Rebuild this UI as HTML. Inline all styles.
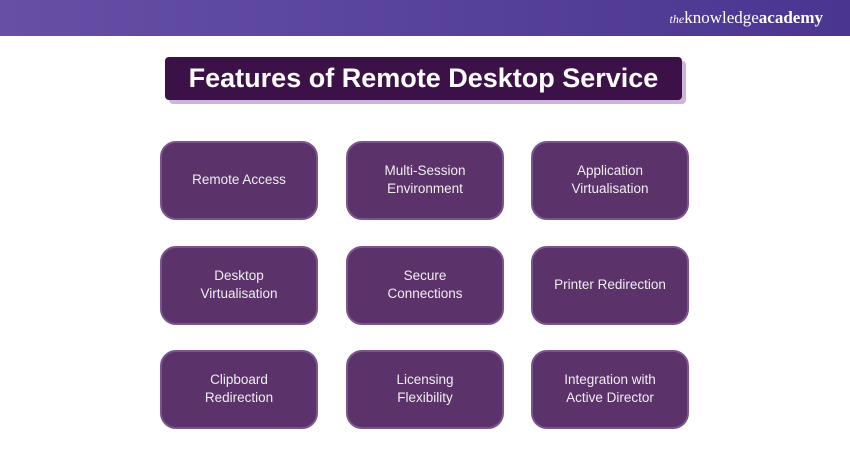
<!DOCTYPE html>
<html><head><style>
body{margin:0;width:850px;height:450px;background:#fff;position:relative;overflow:hidden;font-family:"Liberation Sans",sans-serif}
.hdr{position:absolute;left:0;top:0;width:850px;height:36px;background:linear-gradient(90deg,#6650a6,#4a3590)}
.logo{position:absolute;right:27px;top:8px;color:#fff;font-family:"Liberation Serif",serif;font-size:17px}
.title{position:absolute;left:165px;top:57px;width:517px;height:43px;background:#3b1147;border-radius:4px;box-shadow:4px 4px 0 #cdb4dd;color:#fff;font-weight:bold;font-size:27px;text-align:center;line-height:42px}
.b{position:absolute;width:154px;height:75px;background:#5b336a;border:2px solid #7a5490;border-radius:16px;color:#eee;font-size:13.5px;display:flex;align-items:center;justify-content:center;text-align:center;line-height:18px;padding-bottom:2px;box-sizing:content-box;height:73px}
</style></head><body>
<div class="hdr"><div class="logo"><i style="font-size:12px">the</i>knowledge<b>academy</b></div></div>
<div class="title">Features of Remote Desktop Service</div>
<div class="b" style="left:160px;top:141px">Remote Access</div>
<div class="b" style="left:346px;top:141px">Multi-Session<br>Environment</div>
<div class="b" style="left:531px;top:141px">Application<br>Virtualisation</div>
<div class="b" style="left:160px;top:246px">Desktop<br>Virtualisation</div>
<div class="b" style="left:346px;top:246px">Secure<br>Connections</div>
<div class="b" style="left:531px;top:246px">Printer Redirection</div>
<div class="b" style="left:160px;top:350px">Clipboard<br>Redirection</div>
<div class="b" style="left:346px;top:350px">Licensing<br>Flexibility</div>
<div class="b" style="left:531px;top:350px">Integration with<br>Active Director</div>
</body></html>
